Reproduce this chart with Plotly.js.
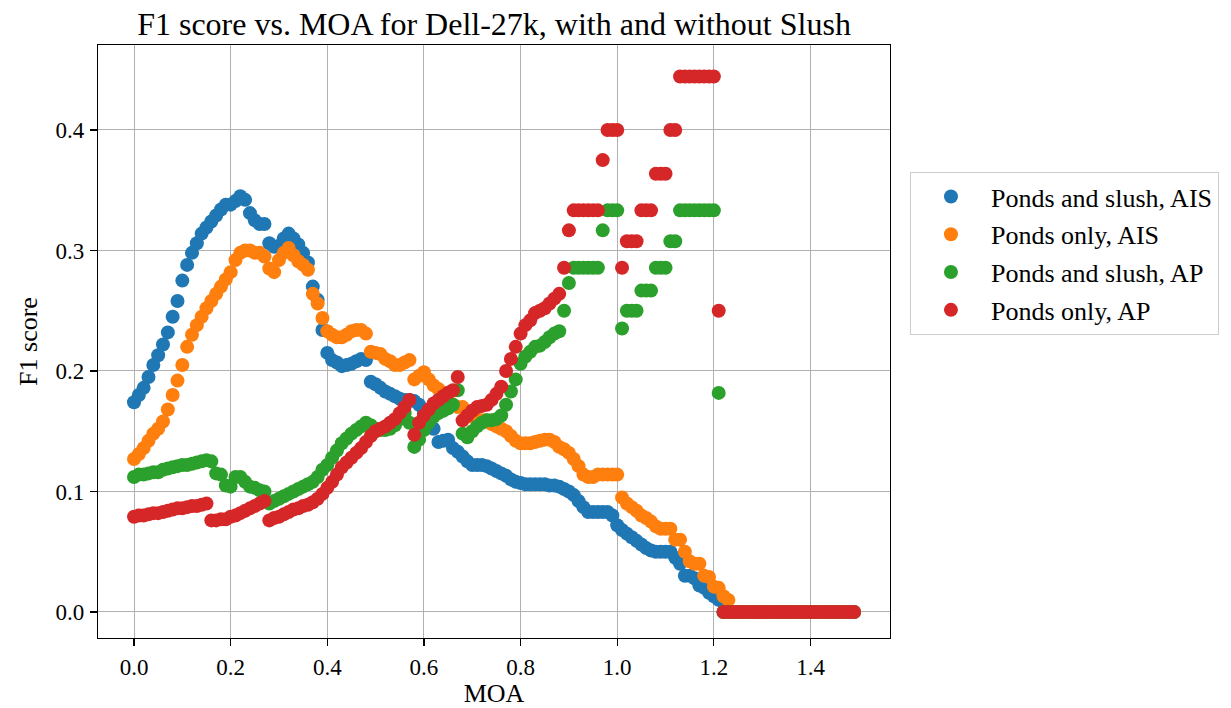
<!DOCTYPE html>
<html>
<head>
<meta charset="utf-8">
<script src="https://cdn.plot.ly/plotly-3.0.1.min.js"></script>
<style>html,body{margin:0;padding:0;background:#fff;}#chart{width:1231px;height:708px;}</style>
</head>
<body>
<div id="chart"></div>
<script>
const moa = [
0.00,0.01,0.02,0.03,0.04,0.05,0.06,0.07,0.08,0.09,
0.10,0.11,0.12,0.13,0.14,0.15,0.16,0.17,0.18,0.19,
0.20,0.21,0.22,0.23,0.24,0.25,0.26,0.27,0.28,0.29,
0.30,0.31,0.32,0.33,0.34,0.35,0.36,0.37,0.38,0.39,
0.40,0.41,0.42,0.43,0.44,0.45,0.46,0.47,0.48,0.49,
0.50,0.51,0.52,0.53,0.54,0.55,0.56,0.57,0.58,0.59,
0.60,0.61,0.62,0.63,0.64,0.65,0.66,0.67,0.68,0.69,
0.70,0.71,0.72,0.73,0.74,0.75,0.76,0.77,0.78,0.79,
0.80,0.81,0.82,0.83,0.84,0.85,0.86,0.87,0.88,0.89,
0.90,0.91,0.92,0.93,0.94,0.95,0.96,0.97,0.98,0.99,
1.00,1.01,1.02,1.03,1.04,1.05,1.06,1.07,1.08,1.09,
1.10,1.11,1.12,1.13,1.14,1.15,1.16,1.17,1.18,1.19,
1.20,1.21,1.22,1.23,1.24,1.25,1.26,1.27,1.28,1.29,
1.30,1.31,1.32,1.33,1.34,1.35,1.36,1.37,1.38,1.39,
1.40,1.41,1.42,1.43,1.44,1.45,1.46,1.47,1.48,1.49];

const pondsSlushAIS = [
0.174,0.180,0.186,0.195,0.205,0.213,0.222,0.232,0.245,0.258,
0.275,0.288,0.298,0.306,0.314,0.319,0.324,0.329,0.334,0.338,
0.338,0.341,0.345,0.342,0.331,0.325,0.322,0.322,0.306,0.303,
0.304,0.310,0.314,0.310,0.305,0.298,0.290,0.270,0.259,0.234,
0.215,0.209,0.207,0.204,0.205,0.206,0.208,0.210,0.209,0.191,
0.189,0.186,0.183,0.181,0.179,0.177,0.176,0.176,0.175,0.172,
0.165,0.159,0.152,0.141,0.142,0.143,0.136,0.133,0.129,0.125,
0.122,0.122,0.122,0.121,0.119,0.117,0.115,0.113,0.110,0.108,
0.107,0.106,0.106,0.106,0.106,0.106,0.105,0.105,0.104,0.102,
0.100,0.097,0.092,0.087,0.083,0.083,0.083,0.083,0.083,0.080,
0.072,0.068,0.065,0.062,0.059,0.056,0.053,0.051,0.050,0.050,
0.050,0.050,0.045,0.040,0.030,0.030,0.028,0.022,0.020,0.016,
0.013,0.010,0,0,0,0,0,0,0,0,
0,0,0,0,0,0,0,0,0,0,
0,0,0,0,0,0,0,0,0,0];

const pondsOnlyAIS = [
0.127,0.131,0.136,0.142,0.148,0.152,0.158,0.168,0.180,0.192,
0.205,0.220,0.230,0.238,0.245,0.252,0.258,0.264,0.270,0.276,
0.282,0.292,0.298,0.300,0.300,0.298,0.298,0.295,0.285,0.282,
0.292,0.298,0.302,0.296,0.291,0.288,0.284,0.264,0.256,0.244,
0.233,0.230,0.228,0.228,0.230,0.233,0.234,0.234,0.231,0.216,
0.215,0.214,0.210,0.208,0.205,0.205,0.207,0.209,0.193,0.196,
0.199,0.193,0.188,0.185,0.180,0.176,0.172,0.170,0.170,0.166,
0.162,0.160,0.159,0.159,0.156,0.154,0.152,0.150,0.146,0.142,
0.140,0.140,0.140,0.141,0.142,0.143,0.143,0.141,0.137,0.135,
0.132,0.127,0.121,0.114,0.112,0.112,0.114,0.114,0.114,0.114,
0.114,0.095,0.090,0.087,0.084,0.080,0.078,0.075,0.071,0.069,
0.069,0.069,0.060,0.060,0.050,0.042,0.040,0.040,0.030,0.029,
0.021,0.020,0.013,0.010,0,0,0,0,0,0,
0,0,0,0,0,0,0,0,0,0,
0,0,0,0,0,0,0,0,0,0];

const pondsSlushAP = [
0.112,0.114,0.114,0.115,0.116,0.116,0.118,0.119,0.120,0.121,
0.122,0.122,0.123,0.124,0.125,0.126,0.125,0.115,0.114,0.105,
0.104,0.112,0.112,0.108,0.104,0.103,0.101,0.100,0.090,0.092,
0.094,0.096,0.098,0.100,0.102,0.104,0.106,0.108,0.112,0.118,
0.122,0.128,0.134,0.140,0.144,0.148,0.151,0.154,0.157,0.155,
0.152,0.151,0.151,0.152,0.155,0.160,0.165,0.157,0.137,0.143,
0.151,0.157,0.162,0.165,0.167,0.169,0.172,0.184,0.148,0.145,
0.150,0.154,0.157,0.159,0.159,0.160,0.163,0.172,0.183,0.193,
0.206,0.212,0.216,0.220,0.221,0.224,0.228,0.231,0.233,0.250,
0.273,0.2857,0.2857,0.2857,0.2857,0.2857,0.2857,0.3167,0.3333,0.3333,
0.3333,0.2353,0.25,0.25,0.25,0.2667,0.2667,0.2667,0.2857,0.2857,
0.2857,0.3077,0.3077,0.3333,0.3333,0.3333,0.3333,0.3333,0.3333,0.3333,
0.3333,0.1818,0,0,0,0,0,0,0,0,
0,0,0,0,0,0,0,0,0,0,
0,0,0,0,0,0,0,0,0,0];

const pondsOnlyAP = [
0.079,0.080,0.080,0.081,0.082,0.082,0.083,0.084,0.085,0.086,
0.086,0.087,0.088,0.088,0.089,0.090,0.076,0.076,0.077,0.077,
0.079,0.080,0.082,0.084,0.086,0.088,0.090,0.092,0.076,0.078,
0.079,0.081,0.083,0.085,0.086,0.088,0.089,0.091,0.094,0.098,
0.103,0.108,0.114,0.120,0.124,0.128,0.132,0.136,0.141,0.146,
0.150,0.152,0.154,0.157,0.160,0.165,0.170,0.176,0.147,0.157,
0.163,0.168,0.173,0.176,0.179,0.182,0.184,0.195,0.159,0.163,
0.167,0.170,0.171,0.172,0.176,0.181,0.187,0.200,0.210,0.220,
0.231,0.238,0.242,0.248,0.250,0.252,0.256,0.260,0.264,0.2857,
0.3167,0.3333,0.3333,0.3333,0.3333,0.3333,0.3333,0.375,0.4,0.4,
0.4,0.2857,0.3077,0.3077,0.3077,0.3333,0.3333,0.3333,0.3636,0.3636,
0.3636,0.4,0.4,0.4444,0.4444,0.4444,0.4444,0.4444,0.4444,0.4444,
0.4444,0.25,0,0,0,0,0,0,0,0,
0,0,0,0,0,0,0,0,0,0,
0,0,0,0,0,0,0,0,0,0];

const seriesNames = ['Ponds and slush, AIS','Ponds only, AIS','Ponds and slush, AP','Ponds only, AP'];
const seriesValues = [pondsSlushAIS, pondsOnlyAIS, pondsSlushAP, pondsOnlyAP];
const colors = ['#1f77b4','#ff7f0e','#2ca02c','#d62728'];
const xTicks = [0.0,0.2,0.4,0.6,0.8,1.0,1.2,1.4];
const yTicks = [0.0,0.1,0.2,0.3,0.4];

const FONT = 'Liberation Serif, Times New Roman, serif';

const traces = seriesValues.map((vals, i) => ({
  type: 'scatter',
  mode: 'markers',
  x: moa,
  y: vals,
  name: seriesNames[i],
  legendgroup: 'g' + i,
  marker: {color: colors[i], size: 14, line: {width: 0}}
}));

const axisCommon = {
  showline: true, linecolor: '#000', linewidth: 1.2, mirror: true,
  ticks: 'outside', ticklen: 7, tickwidth: 1.2, tickcolor: '#000',
  ticklabelstandoff: 1,
  showgrid: true, gridcolor: '#b0b0b0', gridwidth: 1,
  zeroline: false,
  tickfont: {family: FONT, size: 23, color: '#000'},
  tickformat: '.1f'
};

const layout = {
  width: 1231, height: 708,
  margin: {l: 98, r: 341, t: 45, b: 70, autoexpand: false},
  paper_bgcolor: '#fff', plot_bgcolor: '#fff',
  font: {family: FONT, color: '#000'},
  title: {text: 'F1 score vs. MOA for Dell-27k, with and without Slush',
          font: {family: FONT, size: 32, color: '#000'},
          x: 0.5, xref: 'paper', xanchor: 'center',
          y: 0.966, yref: 'container', yanchor: 'middle'},
  xaxis: Object.assign({}, axisCommon, {
    range: [-0.0745, 1.5645], tickvals: xTicks,
    title: {text: 'MOA', font: {family: FONT, size: 26, color: '#000'}, standoff: 12}
  }),
  yaxis: Object.assign({}, axisCommon, {
    range: [-0.0216, 0.4705], tickvals: yTicks,
    title: {text: 'F1 score', font: {family: FONT, size: 26, color: '#000'}, standoff: 10}
  }),
  showlegend: true,
  legend: {
    xref: 'container', yref: 'container',
    x: 0.7392, xanchor: 'left', y: 0.757, yanchor: 'top',
    bordercolor: '#cccccc', borderwidth: 1, bgcolor: '#fff',
    font: {family: FONT, size: 26, color: '#000'},
    traceorder: 'grouped', tracegroupgap: 1, itemwidth: 70
  }
};

Plotly.newPlot('chart', traces, layout, {displayModeBar: false, staticPlot: true});
</script>
</body>
</html>
